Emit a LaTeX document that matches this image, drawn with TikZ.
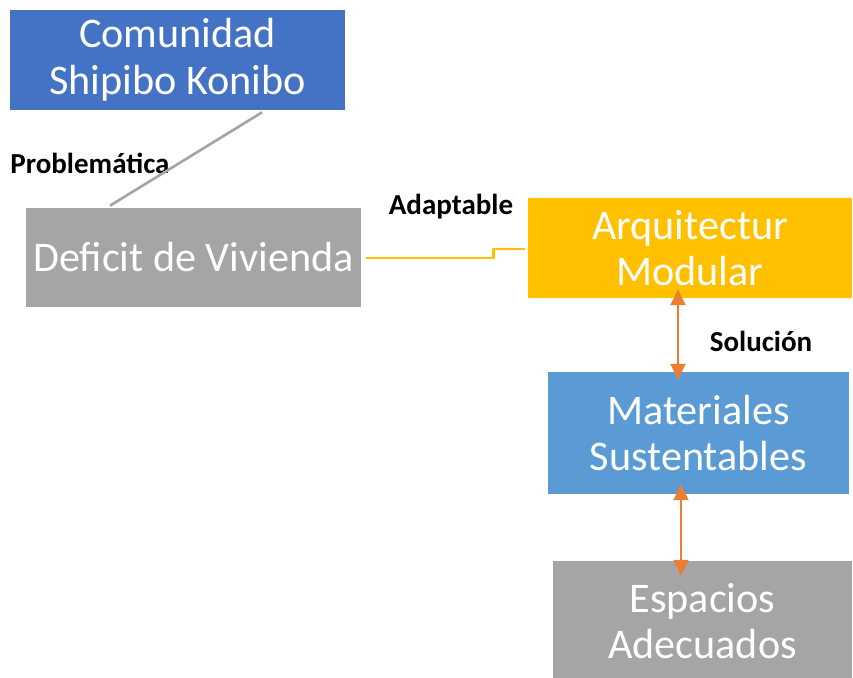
\documentclass[tikz,border=0pt]{standalone}
\usepackage{fontspec}
\setmainfont{Carlito}
\usepackage{xcolor}
\usetikzlibrary{arrows.meta, positioning, calc}

\definecolor{azul}{HTML}{4472C4}
\definecolor{celeste}{HTML}{5B9BD5}
\definecolor{gris}{HTML}{A5A5A5}
\definecolor{oro}{HTML}{FFC000}
\definecolor{naranja}{HTML}{ED7D31}

\tikzset{
	caja/.style={align=center, text=white, inner sep=0pt,
		font=\fontsize{24}{26.5}\selectfont},
	etiqueta/.style={font=\fontsize{16.5}{18}\selectfont\bfseries, text=black},
	flecha/.style={naranja, line width=1.1pt, {Triangle[length=9pt,width=8.5pt]}-{Triangle[length=9pt,width=8.5pt]}}
}

\begin{document}
\begin{tikzpicture}[x=0.02cm, y=-0.02cm]
	\useasboundingbox (0,0) rectangle (853,677);
	
	% Cajas
	\node[caja, fill=azul, minimum width=6.7cm, minimum height=2cm] (com) at (177.5,60) {Comunidad\\Shipibo Konibo};
	\node[caja, fill=gris, minimum width=6.7cm, minimum height=1.98cm] (def) at (193.5,257.5) {Deficit de Vivienda};
	\node[caja, fill=oro, minimum width=6.48cm, minimum height=2cm] (arq) at (690,248) {Arquitectur\\Modular};
	\node[caja, fill=celeste, minimum width=6.02cm, minimum height=2.44cm] (mat) at (698.5,433) {Materiales\\Sustentables};
	\node[caja, fill=gris, minimum width=5.98cm, minimum height=2.4cm] (esp) at (702.5,621) {Espacios\\Adecuados};
	
	% Etiquetas
	\node[etiqueta] (prob) at (90,163) {Problemática};
	\node[etiqueta] (adap) at (451,207) {Adaptable};
	\node[etiqueta] (sol) at (761,341) {Solución};
	
	% Conectores
	\draw[gris, line width=1.5pt] ($(com.south)+(84.5,2)$) -- ($(def.north)+(-83.5,-2)$);
	\draw[oro, line width=1.5pt] ($(def.east)+(5,0.5)$) -- ++(127,0) |- ($(arq.west)+(-3,1)$);
	\draw[flecha] ($(arq.south)+(-12,-9)$) -- ($(mat.north)+(-20.5,8)$);
	\draw[flecha] ($(mat.south)+(-17.5,-10)$) -- ($(esp.north)+(-21.5,15)$);
	
\end{tikzpicture}
\end{document}
